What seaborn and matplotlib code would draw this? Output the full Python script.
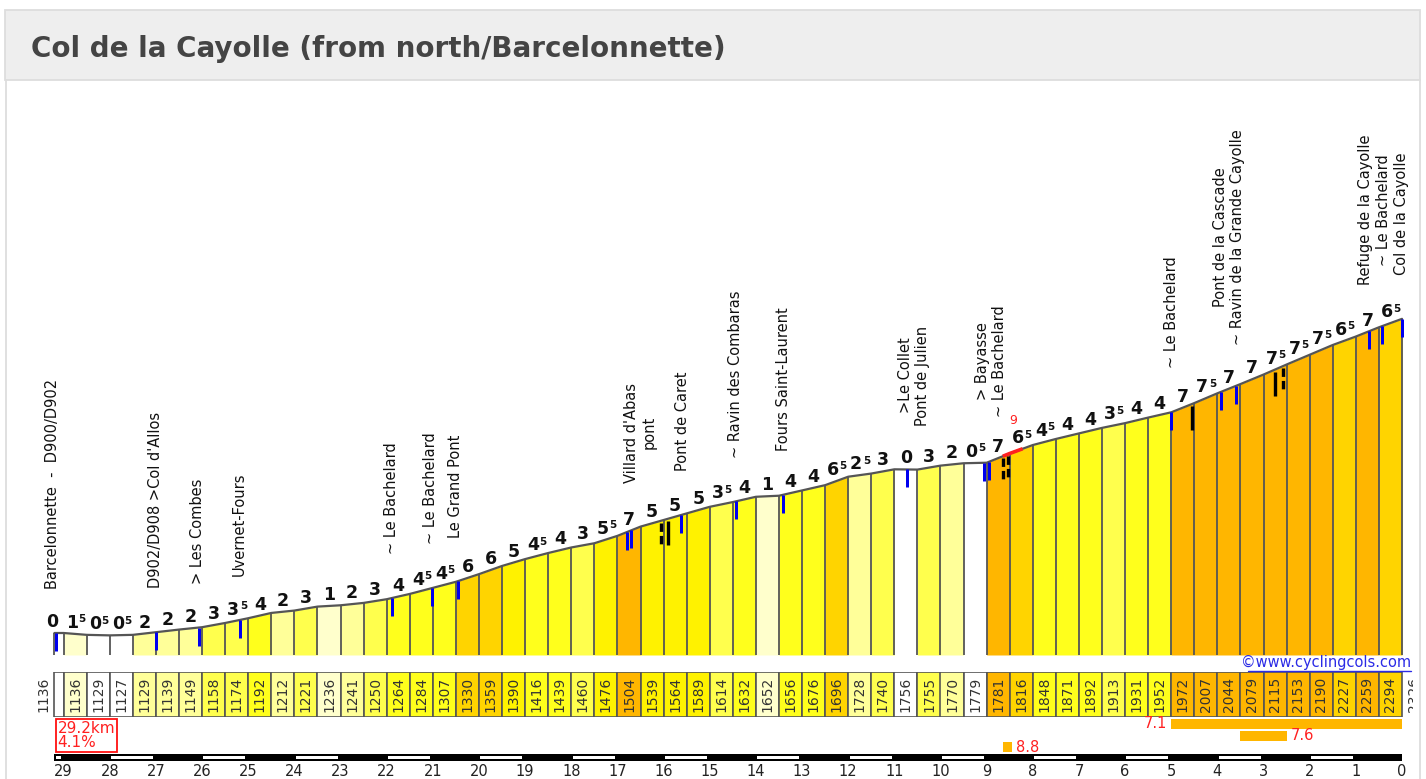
import numpy as np
import pandas as pd
import matplotlib
matplotlib.use("Agg")
import matplotlib.pyplot as plt
import matplotlib.transforms as mtransforms
from matplotlib.patches import Rectangle
from matplotlib.lines import Line2D
import seaborn as sns

sns.set_theme(style="white")
plt.rcParams["font.family"] = ["DejaVu Sans"]

# ---------------------------------------------------------------- data
title = "Col de la Cayolle (from north/Barcelonnette)"

distance_km = [29.2, 29.0, 28.5, 28.0, 27.5, 27.0, 26.5, 26.0, 25.5, 25.0,
               24.5, 24.0, 23.5, 23.0, 22.5, 22.0, 21.5, 21.0, 20.5, 20.0,
               19.5, 19.0, 18.5, 18.0, 17.5, 17.0, 16.5, 16.0, 15.5, 15.0,
               14.5, 14.0, 13.5, 13.0, 12.5, 12.0, 11.5, 11.0, 10.5, 10.0,
               9.5, 9.0, 8.5, 8.0, 7.5, 7.0, 6.5, 6.0, 5.5, 5.0,
               4.5, 4.0, 3.5, 3.0, 2.5, 2.0, 1.5, 1.0, 0.5, 0.0]

elevation_m = [1136, 1136, 1129, 1127, 1129, 1139, 1149, 1158, 1174, 1192,
               1212, 1221, 1236, 1241, 1250, 1264, 1284, 1307, 1330, 1359,
               1390, 1416, 1439, 1460, 1476, 1504, 1539, 1564, 1589, 1614,
               1632, 1652, 1656, 1676, 1696, 1728, 1740, 1756, 1755, 1770,
               1779, 1781, 1816, 1848, 1871, 1892, 1913, 1931, 1952, 1972,
               2007, 2044, 2079, 2115, 2153, 2190, 2227, 2259, 2294, 2326]

grade_label = [0, 1.5, 0.5, 0.5, 2, 2, 2, 3, 3.5, 4,
               2, 3, 1, 2, 3, 4, 4.5, 4.5, 6, 6,
               5, 4.5, 4, 3, 5.5, 7, 5, 5, 5, 3.5,
               4, 1, 4, 4, 6.5, 2.5, 3, 0, 3, 2,
               0.5, 7, 6.5, 4.5, 4, 4, 3.5, 4, 4, 7,
               7.5, 7, 7, 7.5, 7.5, 7.5, 6.5, 7, 6.5]

grade_bins = [1, 2, 3, 4, 5, 6, 7]
grade_colors = ["#FFFFFF", "#FFFFCC", "#FFFF99", "#FFFF4D",
                "#FFFF1C", "#FFF200", "#FFD400", "#FFB600"]

place_km = [29.25, 27.0, 26.1, 25.2, 21.9, 21.05, 20.5, 16.5, 15.6, 14.45,
            13.4, 10.57, 8.9, 5.0, 3.75, 0.6, 0.0]
place_name = ["Barcelonnette  -  D900/D902", "D902/D908 >Col d'Allos",
              "> Les Combes", "Uvernet-Fours", "~ Le Bachelard",
              "~ Le Bachelard", "Le Grand Pont", "Villard d'Abas\npont",
              "Pont de Caret", "~ Ravin des Combaras", "Fours Saint-Laurent",
              ">Le Collet\nPont de Julien", "> Bayasse\n~ Le Bachelard",
              "~ Le Bachelard",
              "Pont de la Cascade\n~ Ravin de la Grande Cayolle",
              "Refuge de la Cayolle\n~ Le Bachelard", "Col de la Cayolle"]

blue_km = [29.17, 27.0, 26.07, 25.17, 21.88, 21.02, 20.45, 16.8, 16.7, 15.62,
           14.43, 13.41, 10.73, 9.06, 8.95, 5.0, 3.92, 3.6, 0.72, 0.43, 0.0]

black_km = [16.06, 15.9, 8.65, 8.53, 4.55, 2.75, 2.58]
black_dashed = [True, False, True, True, False, False, True]

steep_from = [5.0, 3.5, 8.65]
steep_to = [0.0, 2.5, 8.45]
steep_value = [7.1, 7.6, 8.8]

max_from, max_to, max_value = 8.65, 8.22, 9

total_text = "29.2km"
avg_text = "4.1%"

km_ticks = [29, 28, 27, 26, 25, 24, 23, 22, 21, 20, 19, 18, 17, 16, 15,
            14, 13, 12, 11, 10, 9, 8, 7, 6, 5, 4, 3, 2, 1, 0]

# ---------------------------------------------------------------- layout
W, H = 1426, 779
fig = plt.figure(figsize=(W / 100, H / 100), dpi=100)
fig.patch.set_facecolor("white")
PT = 72 / 100.0            # points per pixel

PX_KM0 = 1402.0            # pixel x of km 0
PX_PER_KM = 46.15
REF_PX, PX_PER_M = 633.0, 0.264   # pixel y of start elevation, px per metre
LABEL_WINDOW_KM = 0.5


def frac(x0, y0, x1, y1):
    return [x0 / W, 1 - y1 / H, (x1 - x0) / W, (y1 - y0) / H]


def km_lim(x0, x1):
    return ((PX_KM0 - x0) / PX_PER_KM, (PX_KM0 - x1) / PX_PER_KM)


km = np.array(distance_km, dtype=float)
el = np.array(elevation_m, dtype=float)
km_inc, el_inc = km[::-1], el[::-1]

def elev_at(k):
    return np.interp(k, km_inc, el_inc)

seg_col = [grade_colors[int(np.digitize(g, grade_bins))] for g in grade_label]

# header + panel frame
fig.add_artist(Rectangle((5 / W, 1 - 80 / H), 1415 / W, 70 / H,
                         transform=fig.transFigure, fc="#EEEEEE",
                         ec="#DDDDDD", lw=1.3, zorder=0))
for xp in (5.5, 1419.5):
    fig.add_artist(Line2D([xp / W, xp / W], [0, 1 - 80 / H],
                          transform=fig.transFigure, color="#DDDDDD", lw=1.3))
fig.text(31 / W, 1 - 49 / H, title, fontsize=20, weight="bold",
         color="#444444", ha="left", va="center")

# ---------------------------------------------------------------- profile
ax_p = fig.add_axes(frac(0, 90, W, 655))
ax_p.set_xlim(km_lim(0, W))
y_bot = el[0] - (655 - REF_PX) / PX_PER_M
y_top = el[0] + (REF_PX - 90) / PX_PER_M
ax_p.set_ylim(y_bot, y_top)
ax_p.axis("off")

for i in range(len(grade_label)):
    ax_p.fill_between([km[i], km[i + 1]], [el[i], el[i + 1]], y_bot,
                      color=seg_col[i], lw=0, zorder=1)
ax_p.vlines(km, y_bot, el, color="#555555", lw=1.3, zorder=2)

df = pd.DataFrame({"km": km, "elev": el})
sns.lineplot(data=df, x="km", y="elev", ax=ax_p, color="#555555", lw=1.6,
             zorder=3, legend=False)
ax_p.set_xlabel("")
ax_p.set_ylabel("")

# steepest section (red)
red_k = [max_from] + [k for k in distance_km if max_to < k < max_from] + [max_to]
ax_p.plot(red_k, elev_at(red_k), color="#FF2020", lw=2.6, zorder=4,
          solid_capstyle="butt")
kmid = (max_from + max_to) / 2
ax_p.annotate(str(max_value), xy=(kmid, elev_at(kmid)), xytext=(0, 28 * PT),
              textcoords="offset points", ha="center", va="baseline",
              fontsize=9, color="#FF2020")

# blue markers
blue_tr = mtransforms.offset_copy(ax_p.transData, fig=fig, x=0, y=-9, units="dots")
ax_p.plot(blue_km, elev_at(blue_km), ls="none", marker="|", ms=18 * PT,
          mew=3 * PT, color="#0000EE", transform=blue_tr, zorder=5)

# black markers
for k, dashed in zip(black_km, black_dashed):
    e0 = elev_at(k)
    ax_p.plot([k, k], [e0 - 2 / PX_PER_M, e0 - 26 / PX_PER_M], color="black",
              lw=2.8 * PT * 1.2, ls=(0, (2.5, 1.2)) if dashed else "-",
              zorder=5, solid_capstyle="butt")

# gradient labels (centred on the 0.5 km window ending at each segment end)
for i, g in enumerate(grade_label):
    kc = km[i + 1] + LABEL_WINDOW_KM / 2
    ec = (el[i] + el[i + 1]) / 2
    whole = int(g)
    if g - whole > 0.25:
        ax_p.annotate(str(whole), xy=(kc, ec), xytext=(2.5 * PT, 6 * PT),
                      textcoords="offset points", ha="right", va="baseline",
                      fontsize=12.5, weight="bold", color="#111111")
        ax_p.annotate("5", xy=(kc, ec), xytext=(3.0 * PT, 11.5 * PT),
                      textcoords="offset points", ha="left", va="baseline",
                      fontsize=7.5, weight="bold", color="#111111")
    else:
        ax_p.annotate(str(whole), xy=(kc, ec), xytext=(0, 6 * PT),
                      textcoords="offset points", ha="center", va="baseline",
                      fontsize=12.5, weight="bold", color="#111111")

# place names
for k, name in zip(place_km, place_name):
    ax_p.annotate(name, xy=(k, elev_at(min(max(k, 0), 29.2))),
                  xytext=(0, 44 * PT), textcoords="offset points",
                  rotation=90, ha="center", va="bottom", fontsize=10.5,
                  color="#111111")

# copyright
fig.text(1411 / W, 1 - 662 / H, "©www.cyclingcols.com", ha="right",
         va="center", fontsize=10.5, color="#2B2BE6")
fig.add_artist(Line2D([1248 / W, 1411 / W], [1 - 670.5 / H, 1 - 670.5 / H],
                      transform=fig.transFigure, color="#2B2BE6", lw=1))

# ---------------------------------------------------------------- elevation row
ax_r = fig.add_axes(frac(30, 672, 1413, 717))
ax_r.set_xlim(km_lim(30, 1413))
ax_r.set_ylim(0, 1)
ax_r.axis("off")
centers = (km[:-1] + km[1:]) / 2
widths = km[:-1] - km[1:]
ax_r.bar(centers, 1, width=widths, bottom=0, color=seg_col,
         edgecolor="#555555", linewidth=1.2, align="center")
for i in range(1, len(grade_label)):
    ax_r.text(centers[i], 0.5, str(elevation_m[i]), rotation=90, ha="center",
              va="center", fontsize=10, color="#333333")
ax_r.annotate(str(elevation_m[0]), xy=(km[0], 0.5), xytext=(-11 * PT, 0),
              textcoords="offset points", rotation=90, ha="center",
              va="center", fontsize=10, color="#333333")
ax_r.annotate(str(elevation_m[-1]), xy=(km[-1], 0.5), xytext=(12 * PT, 0),
              textcoords="offset points", rotation=90, ha="center",
              va="center", fontsize=10, color="#333333", clip_on=True)

# ---------------------------------------------------------------- bottom strip
ax_b = fig.add_axes(frac(0, 717, W, 779))
ax_b.set_xlim(km_lim(0, W))
ax_b.set_ylim(62, 0)
ax_b.axis("off")

ax_b.annotate(total_text + "\n" + avg_text, xy=(km[0], 4), xytext=(3 * PT, 0),
              textcoords="offset points", ha="left", va="top", fontsize=11,
              color="#FF2020", linespacing=0.95,
              bbox=dict(boxstyle="square,pad=0.12", fc="white", ec="#FF1010",
                        lw=1.3))

for row, (k0, k1, v) in enumerate(zip(steep_from, steep_to, steep_value)):
    yc = 7 + 11.7 * row
    ax_b.barh(yc, k1 - k0, left=k0, height=10, color="#FFB600", lw=0)
    if k1 == 0:
        ax_b.annotate(f"{v:.1f}", xy=(k0, yc), xytext=(-4 * PT, 0),
                      textcoords="offset points", ha="right", va="center",
                      fontsize=10.5, color="#FF2020")
    else:
        ax_b.annotate(f"{v:.1f}", xy=(k1, yc), xytext=(4 * PT, 0),
                      textcoords="offset points", ha="left", va="center",
                      fontsize=10.5, color="#FF2020")

# km scale bar
ax_b.barh(40.5, km[-1] - km[0], left=km[0], height=7.5, color="black", lw=0)
white_segments = [(km[0], km_ticks[0])] + [(k, k - 1) for k in km_ticks if k % 2 == 0 and k > 0]
for a, b in white_segments:
    ax_b.barh(40.5, (b + 0.06) - (a - 0.03), left=a - 0.03, height=3.2,
              color="white", lw=0)
for k in km_ticks:
    ax_b.text(k, 54, str(k), ha="center", va="center", fontsize=10.5,
              color="#222222")

fig.savefig("out.png", dpi=100)
